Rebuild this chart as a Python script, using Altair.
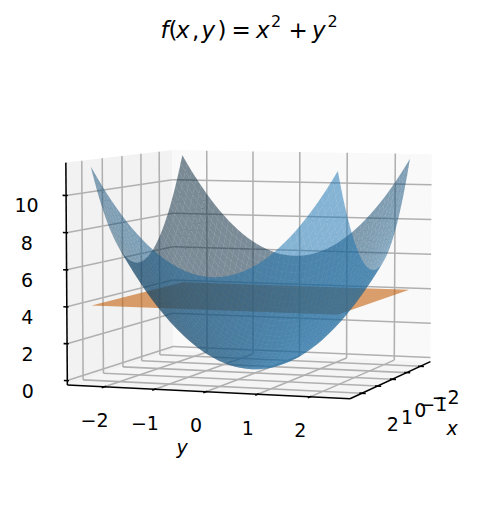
import math
import altair as alt
import numpy as np

# ---- chart values ----
grid_values = [round(-2.4 + i / 10, 1) for i in range(49)]   # mesh of the bowl surface
plane_corners = [-2.4, 2.4]                                  # flat plane spans the same square
plane_level = 4
xy_ticks = [-2, -1, 0, 1, 2]
z_ticks = [0, 2, 4, 6, 8, 10]
tick_text = {-2: "\u22122", -1: "\u22121", 0: "0", 1: "1", 2: "2"}
surface_color = (31, 119, 180)
plane_color = (255, 127, 14)

# ---- view settings ----
ELEV, AZIM, DIST = 5.15, 19.1, 10.5
SCALE_X, SCALE_Y, CX, CY = 2524.0, 2535.0, 255.2, 266.0
XYLIM, ZMIN, ZMAX = 2.75, -0.24, 11.76
W, H = 469, 493
el, az = math.radians(ELEV), math.radians(AZIM)
ww = np.array([math.cos(el) * math.cos(az), math.cos(el) * math.sin(az), math.sin(el)])
uu = np.array([-math.sin(az), math.cos(az), 0.0])
vv = np.cross(ww, uu)
k = 1.8294640721620434 * 25 / 24 / math.sqrt(41)
box = np.array([4 * k, 4 * k, 3 * k])


def world(x, y, z):
    return np.array([
        x / (2 * XYLIM) * box[0],
        y / (2 * XYLIM) * box[1],
        ((z - ZMIN) / (ZMAX - ZMIN) - 0.5) * box[2],
    ])


def project(x, y, z):
    p = world(x, y, z)
    d = DIST - p @ ww
    return CX + SCALE_X * (p @ uu) / d - 8, CY - SCALE_Y * (p @ vv) / d - 8


def depth(x, y, z):
    return world(x, y, z) @ ww


def polygon(corners, fill):
    ring = [[round(v, 2) for v in project(*c)] for c in corners]
    ring.append(ring[0])
    return {"type": "Feature", "geometry": {"type": "Polygon", "coordinates": [ring]},
            "properties": {"fill": fill}}


LIGHT = np.array([-math.sqrt(0.5) * math.cos(math.radians(19.4712)),
                  -math.sqrt(0.5) * math.cos(math.radians(19.4712)),
                  math.sin(math.radians(19.4712))])


def mesh(g, zfun, rgb):
    out = []
    for r in range(len(g) - 1):
        for c in range(len(g) - 1):
            pts = [(g[c], g[r]), (g[c + 1], g[r]), (g[c + 1], g[r + 1]), (g[c], g[r + 1])]
            pts3 = np.array([(a, b, zfun(a, b)) for a, b in pts], dtype=float)
            n = np.cross(pts3[0] - pts3[2], pts3[1] - pts3[3])
            s = float(n @ LIGHT / np.linalg.norm(n))
            f = 0.3 + 0.7 * (s + 1) / 2
            col = "rgb(%d,%d,%d)" % tuple(round(v * f) for v in rgb)
            dep = float(np.mean([depth(*p) for p in pts3]))
            out.append((dep, polygon([tuple(p) for p in pts3], col)))
    out.sort(key=lambda t: t[0])
    return [t[1] for t in out]


def geo_layer(features, opacity=None):
    mark = alt.Chart(alt.Data(values=features)).mark_geoshape(
        strokeWidth=0, **({"fillOpacity": opacity} if opacity else {})
    )
    return mark.encode(color=alt.Color("properties.fill:N", scale=None)).project(
        type="identity", scale=1, translate=[0, 0]
    )


L = XYLIM
panes = [
    polygon([(L, -L, ZMIN), (-L, -L, ZMIN), (-L, -L, ZMAX), (L, -L, ZMAX)], "#f2f2f2"),
    polygon([(-L, -L, ZMIN), (-L, L, ZMIN), (-L, L, ZMAX), (-L, -L, ZMAX)], "#f9f9f9"),
    polygon([(L, -L, ZMIN), (L, L, ZMIN), (-L, L, ZMIN), (-L, -L, ZMIN)], "#f5f5f5"),
]


def seg(a, b):
    x, y = project(*a)
    x2, y2 = project(*b)
    return {"x": round(x, 2), "y": round(y, 2), "x2": round(x2, 2), "y2": round(y2, 2)}


grid_rules = []
for v in xy_ticks:
    grid_rules += [seg((v, -L, ZMIN), (v, L, ZMIN)), seg((v, -L, ZMIN), (v, -L, ZMAX))]
    grid_rules += [seg((L, v, ZMIN), (-L, v, ZMIN)), seg((-L, v, ZMIN), (-L, v, ZMAX))]
for v in z_ticks:
    grid_rules += [seg((L, -L, v), (-L, -L, v)), seg((-L, -L, v), (-L, L, v))]

axis_rules = [seg((L, -L, ZMIN), (L, L, ZMIN)), seg((L, L, ZMIN), (-L, L, ZMIN)),
              seg((L, -L, ZMIN), (L, -L, ZMAX))]
for v in xy_ticks:
    axis_rules.append(seg((L + 0.14, v, ZMIN), (L - 0.07, v, ZMIN)))
    axis_rules.append(seg((v, L + 0.07, ZMIN), (v, L - 0.05, ZMIN)))
for v in z_ticks:
    axis_rules.append(seg((L, -L - 0.07, v), (L, -L + 0.035, v)))


def rule_layer(rows, color):
    return alt.Chart(alt.Data(values=rows)).mark_rule(color=color, strokeWidth=1.55).encode(
        x=alt.X("x:Q", scale=None, axis=None), x2="x2:Q",
        y=alt.Y("y:Q", scale=None, axis=None), y2="y2:Q",
    )


tick_labels = []
for v in xy_ticks:
    px, py = project(L, v, ZMIN)
    tick_labels.append({"x": px - 10, "y": py + 34.5, "t": tick_text[v]})
    px, py = project(v, L, ZMIN)
    tick_labels.append({"x": px + 28 + 1.4 * v, "y": py + 32, "t": tick_text[v]})
for v in z_ticks:
    px, py = project(L, -L, v)
    tick_labels.append({"x": px - 39.5, "y": py + 11, "t": str(v)})


def text_layer(rows, size, style="normal", baseline="middle", align="center"):
    return alt.Chart(alt.Data(values=rows)).mark_text(
        font="DejaVu Sans", fontSize=size, fontStyle=style, baseline=baseline, align=align, color="black"
    ).encode(x=alt.X("x:Q", scale=None, axis=None), y=alt.Y("y:Q", scale=None, axis=None), text="t:N")


axis_names = [{"x": 452 - 8, "y": 429 - 8, "t": "x"}, {"x": 182 - 8, "y": 448 - 8, "t": "y"}]

title_base = 38 - 8
title_italic = [{"x": 152.5, "y": title_base, "t": "f"}, {"x": 168, "y": title_base, "t": "x"},
                {"x": 193.5, "y": title_base, "t": "y"}, {"x": 248, "y": title_base, "t": "x"},
                {"x": 304, "y": title_base, "t": "y"}]
title_upright = [{"x": 160.5, "y": title_base, "t": "("}, {"x": 184, "y": title_base, "t": ","},
                 {"x": 209.5, "y": title_base, "t": ")"}, {"x": 223.5, "y": title_base, "t": "="},
                 {"x": 280.5, "y": title_base, "t": "+"}]
title_sup = [{"x": 263, "y": 27 - 8, "t": "2"}, {"x": 319.5, "y": 27 - 8, "t": "2"}]

chart = alt.layer(
    geo_layer(panes),
    rule_layer(grid_rules, "#b0b0b0"),
    rule_layer(axis_rules, "black"),
    geo_layer(mesh(plane_corners, lambda a, b: plane_level, plane_color), 0.6),
    geo_layer(mesh(grid_values, lambda a, b: a * a + b * b, surface_color), 0.53),
    text_layer(tick_labels, 19),
    text_layer(axis_names, 19, style="italic"),
    text_layer(title_italic, 23, style="italic", baseline="alphabetic", align="left"),
    text_layer(title_upright, 23, baseline="alphabetic", align="left"),
    text_layer(title_sup, 16, baseline="alphabetic", align="left"),
).properties(width=W, height=H, padding=0, autosize=alt.AutoSizeParams(type="none")).configure_view(stroke=None)

chart.save("out.html", embed_options={"renderer": "svg", "actions": False})
